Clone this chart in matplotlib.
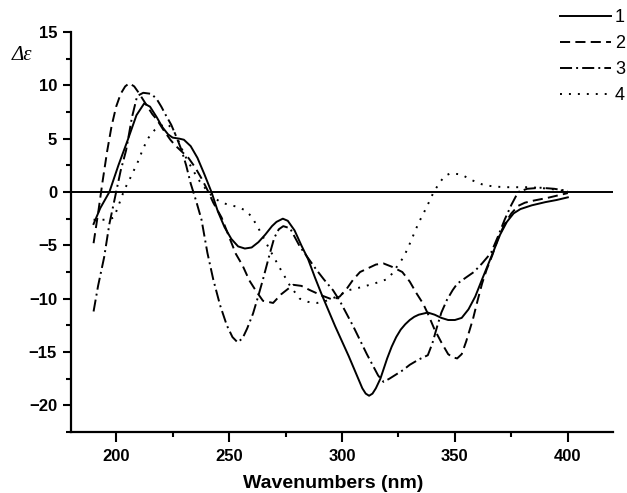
import matplotlib
matplotlib.use("Agg")
import matplotlib.pyplot as plt
from matplotlib.ticker import MultipleLocator

plt.rcParams["font.family"] = ["Liberation Sans", "DejaVu Sans"]

# compound 1 (solid)
x1 = [190, 193, 197, 201, 205, 209, 212.4, 215, 218, 220.4, 223, 225, 228, 230, 233, 236,
      239, 242.2, 245, 248, 251, 254, 257, 260, 263, 266, 269, 271, 273.8, 276, 279, 282,
      285, 288, 291, 294, 297, 300, 303, 306, 309, 310.5, 312, 313.5, 315, 317, 320, 322,
      324, 326, 328, 330, 332, 334, 338, 341, 344, 347, 350, 353, 356, 359, 362, 364.5,
      367, 370, 373, 376, 379, 384, 390, 395, 400]
y1 = [-3.0, -1.5, 0.0, 2.5, 4.8, 7.2, 8.3, 8.0, 7.0, 6.1, 5.4, 5.1, 5.0, 4.9, 4.3, 3.2,
      1.7, 0.0, -1.8, -3.3, -4.4, -5.1, -5.3, -5.2, -4.7, -4.0, -3.2, -2.8, -2.5, -2.7,
      -3.6, -5.0, -6.3, -8.0, -9.6, -11.1, -12.6, -14.0, -15.4, -16.9, -18.4, -18.9,
      -19.1, -18.9, -18.4, -17.5, -15.6, -14.5, -13.6, -12.9, -12.4, -12.0, -11.7, -11.5,
      -11.3, -11.5, -11.8, -12.0, -12.0, -11.8, -11.0, -9.8, -8.2, -6.9, -5.6, -4.0,
      -2.8, -2.0, -1.6, -1.25, -0.95, -0.75, -0.5]

# compound 2 (dashed)
x2 = [190, 192, 194, 196, 198, 200, 202, 204, 205.8, 208, 210, 213, 216, 218, 221, 224,
      226, 229, 232, 235, 238, 240.4, 243, 246.7, 250, 253, 256, 259, 262, 265, 269.5,
      273, 278.4, 282, 285.8, 291, 296, 299, 302, 305, 308, 311, 315, 318.4, 322, 326.7,
      330, 333, 336, 338, 341, 344, 347, 349, 351, 353, 355, 358, 360, 362, 364, 366.6,
      369, 372, 375, 378, 381, 385, 391, 396, 400]
y2 = [-4.8, -2.0, 1.0, 3.8, 6.2, 8.0, 9.2, 9.9, 10.2, 9.9, 9.3, 8.3, 7.3, 6.8, 5.8, 4.9,
      4.4, 3.8, 3.2, 2.3, 1.2, 0.2, -1.0, -2.4, -4.2, -5.8, -6.9, -8.3, -9.3, -10.2, -10.4,
      -9.6, -8.7, -8.8, -9.2, -9.7, -10.1, -9.8, -9.1, -8.2, -7.5, -7.2, -6.8, -6.7, -7.0,
      -7.5, -8.4, -9.5, -10.5, -11.4, -12.9, -14.1, -15.2, -15.5, -15.6, -15.2, -14.0,
      -11.9, -10.2, -8.6, -7.3, -5.9, -4.4, -3.0, -2.0, -1.3, -1.0, -0.8, -0.55, -0.3,
      -0.1]

# compound 3 (dash-dot)
x3 = [190, 192, 194.7, 197, 200, 202, 204.4, 207, 209.3, 212, 215.6, 218, 220, 222, 224.4,
      227, 229, 231, 233, 235.5, 237.8, 240.4, 243, 246, 249, 251.5, 253.8, 256, 258,
      260.6, 263, 265, 268, 270, 272, 274, 277, 281.3, 285, 288.7, 292, 296, 299, 302,
      305, 308, 311, 314, 316, 318.4, 321, 324, 327, 330, 334, 338, 340, 342, 344, 346.5,
      349, 351, 355, 358.4, 362, 366, 369, 372, 375, 378, 382, 388, 394, 400]
y3 = [-11.2, -8.8, -6.1, -3.0, 0.0, 2.0, 3.9, 7.0, 9.0, 9.3, 9.2, 8.7, 8.0, 7.2, 6.3,
      5.0, 3.9, 2.5, 0.8, -0.9, -2.6, -5.7, -8.2, -10.6, -12.5, -13.6, -14.1, -13.7,
      -12.8, -11.4, -9.7, -8.2, -5.8, -4.3, -3.5, -3.2, -3.4, -5.1, -6.2, -7.3, -8.2,
      -9.2, -10.2, -11.4, -12.6, -13.9, -15.2, -16.4, -17.2, -17.8, -17.5, -17.1, -16.7,
      -16.2, -15.7, -15.3, -14.2, -12.7, -11.3, -10.1, -9.2, -8.6, -8.0, -7.5, -6.7,
      -5.7, -4.2, -2.6, -1.2, 0.0, 0.3, 0.4, 0.3, 0.1]

# compound 4 (dotted)
x4 = [190, 193, 196, 199, 201, 203.6, 206, 208, 210, 211.6, 214, 217, 220, 222.7, 224,
      225.8, 228, 230, 232, 234.7, 237, 240, 243, 246.7, 250, 253.8, 257, 260, 263.5,
      268, 272.4, 277, 281.3, 285, 289, 293, 297.8, 303, 309, 315.5, 319.6, 322, 324.3,
      327.3, 329.5, 331.7, 333.9, 336.1, 338.4, 340.6, 343.3, 345.5, 348, 352.7, 357.6,
      362.8, 368, 373, 383.5, 392, 400]
y4 = [-2.6, -2.6, -2.6, -2.4, -1.3, 0.2, 1.2, 2.1, 3.0, 3.9, 5.0, 5.8, 6.2, 6.4, 6.1,
      5.6, 4.6, 3.6, 2.8, 1.8, 1.0, 0.2, -0.5, -1.0, -1.2, -1.4, -1.7, -2.3, -3.6, -5.4,
      -7.1, -8.8, -10.0, -10.3, -10.4, -10.2, -9.8, -9.2, -8.9, -8.5, -8.2, -7.7, -7.0,
      -6.1, -5.1, -4.0, -2.9, -2.0, -1.0, 0.0, 0.9, 1.5, 1.75, 1.65, 1.1, 0.65, 0.5,
      0.45, 0.45, 0.3, 0.05]

labels = ["1", "2", "3", "4"]

fig = plt.figure(figsize=(6.27, 4.93), dpi=100)
ax = fig.add_axes([0.1132, 0.1237, 0.8645, 0.8114])

lw = 1.4
ax.plot(x1, y1, color="black", lw=lw, linestyle="-", label=labels[0])
ax.plot(x2, y2, color="black", lw=lw, linestyle=(0, (5.2, 2.7)), label=labels[1])
ax.plot(x3, y3, color="black", lw=lw, linestyle=(0, (6.2, 2.1, 1.0, 2.1)), label=labels[2])
ax.plot(x4, y4, color="black", lw=lw, linestyle=(0, (1.0, 3.6)), label=labels[3])

ax.axhline(0, color="black", lw=1.4)

ax.set_xlim(180, 420)
ax.set_ylim(-22.5, 15)
ax.xaxis.set_major_locator(MultipleLocator(50))
ax.xaxis.set_minor_locator(MultipleLocator(25))
ax.yaxis.set_major_locator(MultipleLocator(5))
ax.yaxis.set_minor_locator(MultipleLocator(2.5))

ax.spines["top"].set_visible(False)
ax.spines["right"].set_visible(False)
ax.spines["left"].set_linewidth(1.6)
ax.spines["bottom"].set_linewidth(1.6)

ax.tick_params(axis="x", which="major", direction="out", length=7.5, width=1.5,
               labelsize=12, pad=5)
ax.tick_params(axis="y", which="major", direction="out", length=6, width=1.5,
               labelsize=12, pad=4)
ax.tick_params(which="minor", direction="out", length=3.5, width=1.5)
for label in ax.get_xticklabels() + ax.get_yticklabels():
    label.set_fontweight("bold")

ax.set_xlabel("Wavenumbers (nm)", fontsize=14, fontweight="bold")
ax.xaxis.set_label_coords(0.483, -0.108)

fig.text(0.019, 0.888, "Δε", fontsize=15, fontstyle="italic",
         family=["Liberation Serif", "DejaVu Serif"], ha="left", va="center")

ax.legend(loc="upper left", bbox_to_anchor=(560 / 627, 1 - 9 / 493),
          bbox_transform=fig.transFigure, frameon=False, fontsize=13,
          handlelength=2.8, handletextpad=0.25, labelspacing=0.5, borderpad=0,
          borderaxespad=0)

plt.savefig("out.png", dpi=100)
